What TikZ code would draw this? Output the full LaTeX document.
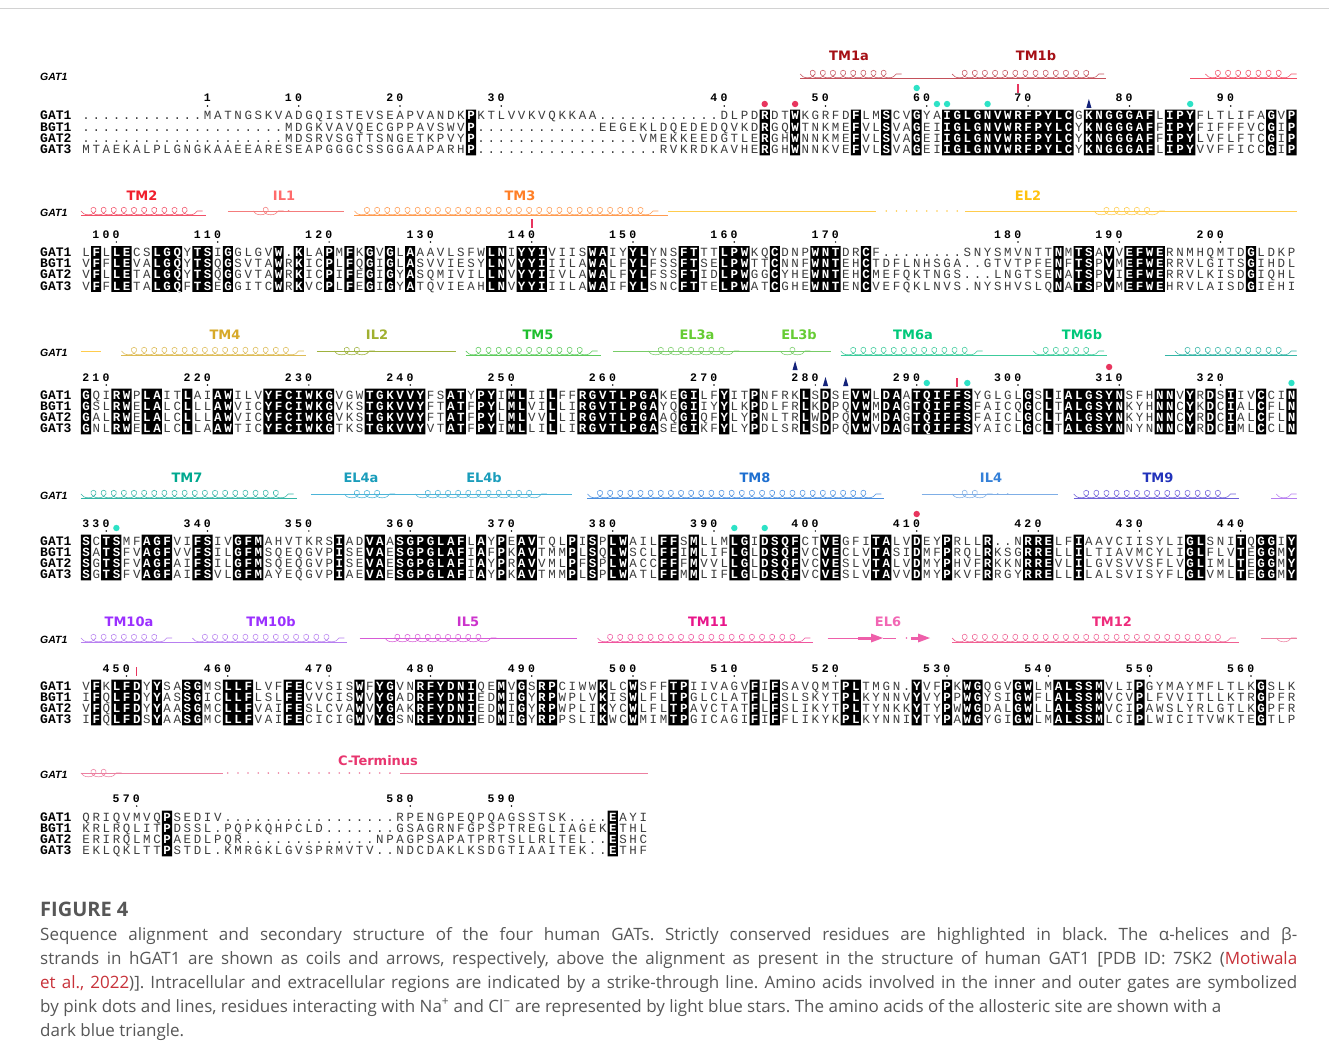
\documentclass[tikz,border=0pt]{standalone}
\usepackage{fontspec}
\usetikzlibrary{decorations.pathmorphing}
\newfontfamily\seqf{Liberation Mono}
\newfontfamily\lblf{DejaVu Sans}
\newfontfamily\glf{Liberation Sans}
\newfontfamily\capf{Open Sans}
\definecolor{seqgray}{HTML}{3C3C3C}
\definecolor{capgray}{HTML}{575757}
\definecolor{linkred}{HTML}{C8323A}
\definecolor{mpink}{HTML}{E8355E}
\definecolor{mcyan}{HTML}{2DE2C6}
\definecolor{mnavy}{HTML}{14237A}
\definecolor{tmAl}{HTML}{A50F15}\definecolor{tmAc}{HTML}{C4515B}
\definecolor{tmBl}{HTML}{F01E2C}\definecolor{tmBc}{HTML}{F25068}
\definecolor{ilAl}{HTML}{FF6B6B}\definecolor{ilAc}{HTML}{F47C7C}
\definecolor{tmCl}{HTML}{FF7F27}\definecolor{tmCc}{HTML}{FF9B50}
\definecolor{elBl}{HTML}{FFC20E}\definecolor{elBc}{HTML}{FFCC4D}
\definecolor{tmDl}{HTML}{D7A929}\definecolor{tmDc}{HTML}{DDBB55}
\definecolor{ilBl}{HTML}{A0B030}\definecolor{ilBc}{HTML}{9EB23E}
\definecolor{tmEl}{HTML}{1FBF2F}\definecolor{tmEc}{HTML}{5CCB5C}
\definecolor{elCl}{HTML}{66CC33}\definecolor{elCc}{HTML}{77CC66}
\definecolor{tmFl}{HTML}{00C87A}\definecolor{tmFc}{HTML}{3CCB9B}
\definecolor{tmGl}{HTML}{00A88F}\definecolor{tmGc}{HTML}{33B5A5}
\definecolor{elDl}{HTML}{1A9DBB}\definecolor{elDc}{HTML}{4BB4D8}
\definecolor{tmHl}{HTML}{1E6FD0}\definecolor{tmHc}{HTML}{4A8FE0}
\definecolor{ilDl}{HTML}{3480D8}\definecolor{ilDc}{HTML}{7FAEE6}
\definecolor{tmIl}{HTML}{2233BB}\definecolor{tmIc}{HTML}{6E5FD8}
\definecolor{tmJl}{HTML}{9B30FF}\definecolor{tmJc}{HTML}{B77FF0}
\definecolor{ilEl}{HTML}{CC33CC}\definecolor{ilEc}{HTML}{D65AD6}
\definecolor{tmKl}{HTML}{E8158A}\definecolor{tmKc}{HTML}{F0569F}
\definecolor{elFl}{HTML}{F266B4}\definecolor{elFc}{HTML}{EE5FAA}
\definecolor{tmLl}{HTML}{EE2C7C}\definecolor{tmLc}{HTML}{F06092}
\definecolor{ctl}{HTML}{E8356E}\definecolor{ctc}{HTML}{EC7FA0}
\makeatletter
\newcommand\sq[1]{\sq@a#1\relax}
\def\sq@a#1{\ifx#1\relax\else\makebox[10.13pt][c]{#1}\expandafter\sq@a\fi}
\makeatother
\newcommand\cx[1]{80.935+(#1)*10.13}
\newcommand\ccx[1]{86+(#1-1)*10.13}
\newcommand\pdot[2]{\fill[mpink] ({\ccx{#1}},#2) circle (3.2);}
\newcommand\cyd[2]{\fill[mcyan] ({\ccx{#1}},#2) circle (3.2);}
\newcommand\pbar[2]{\fill[mpink] ({\ccx{#1}-0.8},#2-4.5) rectangle ({\ccx{#1}+0.8},#2+4.5);}
\newcommand\tri[2]{\fill[mnavy] ({\ccx{#1}},#2-5) -- ({\ccx{#1}+2.6},#2+4) -- ({\ccx{#1}-2.6},#2+4) -- cycle;}
\newcommand\numl[3]{\node[numst] (n#2) at ({\cx{#1}},#3+4) {\sq{#2}}; \fill ({\ccx{#1}},#3+8) circle (0.85);}
\newcommand\coil[4]{\draw[#1,coilst] ({\cx{#2-1}},#4) -- ({\cx{#3}+0.05},#4);}
\newcommand\sline[4]{\draw[#1,line width=0.6pt] ({\cx{#2}},#4) -- ({\cx{#3}},#4);}
\newcommand\sdots[4]{\foreach \k in {#2,...,#3}{\fill[#1] ({\ccx{\k}},#4) circle (0.9);}}
\newcommand\rows[7]{%
 \node[nm] (#1n1) at (40,#2+4) {GAT1};
 \node[nm] (#1n2) at (40,#2+15.2) {BGT1};
 \node[nm] (#1n3) at (40,#2+26.4) {GAT2};
 \node[nm] (#1n4) at (40,#2+37.6) {GAT3};
 \node[sqs] (#1s1) at (80.935,#2+4) {\sq{#4}};
 \node[sqs] (#1s2) at (80.935,#2+15.2) {\sq{#5}};
 \node[sqs] (#1s3) at (80.935,#2+26.4) {\sq{#6}};
 \node[sqs] (#1s4) at (80.935,#2+37.6) {\sq{#7}};
 \fill[black] \foreach \a/\b in {#3} {({\cx{\a-1}},#2-6.3) rectangle ({\cx{\b}},#2+39.4)};
 \begin{scope}
  \clip \foreach \a/\b in {#3} {({\cx{\a-1}},#2-6.3) rectangle ({\cx{\b}},#2+39.4)};
  \node[sqw] (#1w1) at (80.935,#2+4) {\sq{#4}};
  \node[sqw] (#1w2) at (80.935,#2+15.2) {\sq{#5}};
  \node[sqw] (#1w3) at (80.935,#2+26.4) {\sq{#6}};
  \node[sqw] (#1w4) at (80.935,#2+37.6) {\sq{#7}};
 \end{scope}}
\begin{document}
\begin{tikzpicture}[x=1pt,y=-1pt,
 nm/.style={font=\seqf\bfseries\fontsize{13}{13}\selectfont, anchor=base west, inner sep=0pt},
 sqs/.style={font=\seqf\fontsize{12.5}{12.5}\selectfont, text=seqgray, anchor=base west, inner sep=0pt},
 sqw/.style={font=\seqf\bfseries\fontsize{12.5}{12.5}\selectfont, text=white, anchor=base west, inner sep=0pt},
 numst/.style={font=\seqf\bfseries\fontsize{11.5}{11.5}\selectfont, anchor=base east, inner sep=0pt},
 lab/.style={font=\lblf\bfseries\fontsize{13}{13}\selectfont, inner sep=0pt},
 gl/.style={font=\glf\bfseries\itshape\fontsize{10.5}{10.5}\selectfont, anchor=west, inner sep=0pt},
 capst/.style={font=\capf\fontsize{17}{17}\selectfont\frenchspacing, text=capgray, anchor=base west, inner sep=0pt},
 coilst/.style={decorate, decoration={coil, mirror, amplitude=3.8pt, segment length=10.13pt, aspect=1.3}, line width=0.55pt},
 ]
\useasboundingbox (0,0) rectangle (1329,1062);
\fill[white] (0,0) rectangle (1329,1062);
\draw[gray!35, line width=0.8pt] (0,8.5) -- (1329,8.5);

% ---------------- Block 1
\node[gl] (g1) at (40,77) {GAT1};
\sline{tmAc}{71}{101.2}{78}
\coil{tmAc}{72}{81}{74}
\coil{tmAc}{87}{101}{74}
\node[lab, text=tmAl] (lTMa) at (849,56) {TM1a};
\node[lab, text=tmAl] (lTMb) at (1036,56) {TM1b};
\sline{tmBc}{109.5}{120}{78}
\coil{tmBc}{112}{120}{74}
\numl{13}{1}{98}\numl{22}{10}{98}\numl{32}{20}{98}\numl{42}{30}{98}\numl{64}{40}{98}
\numl{74}{50}{98}\numl{84}{60}{98}\numl{94}{70}{98}\numl{104}{80}{98}\numl{114}{90}{98}
\pdot{68}{104}\pdot{71}{104}
\cyd{83}{88}\cyd{85}{104}\cyd{86}{104}\cyd{90}{104}\cyd{110}{104}
\pbar{93}{89}
\tri{100}{104}
\rows{a}{116}{39/39,68/68,71/71,77/77,80/80,83/83,86/98,100/106,108/110,118/118,120/120}
{............MATNGSKVADGQISTEVSEAPVANDKPKTLVVKVQKKAA............DLPDRDTWKGRFDFLMSCVGYAIGLGNVWRFPYLCGKNGGGAFLIPYFLTLIFAGVP}
{....................MDGKVAVQECGPPAVSWVP............EEGEKLDQEDEDQVKDRGQWTNKMEFVLSVAGEIIGLGNVWRFPYLCYKNGGGAFFIPYFIFFFVCGIP}
{....................MDSRVSGTTSNGETKPVYP................VMEKKEEDGTLERGHWNNKMEFVLSVAGEIIGLGNVWRFPYLCYKNGGGAFFIPYLVFLFTCGIP}
{MTAEKALPLGNGKAAEEARESEAPGGGCSSGGAAPARHP..................RVKRDKAVHERGHWNNKVEFVLSVAGEIIGLGNVWRFPYLCYKNGGGAFLIPYVVFFICCGIP}

% ---------------- Block 2
\node[gl] (g2) at (40,213) {GAT1};
\sline{tmBc}{0}{12.3}{215}
\coil{tmBc}{1}{12}{211}
\node[lab, text=tmBl] (lTM2) at (142,196) {TM2};
\sline{ilAc}{14.5}{26}{211}
\coil{ilAc}{18}{20}{211}
\sdots{ilAc}{21}{21}{211}
\coil{ilAc}{22}{22}{211}
\node[lab, text=ilAl] (lIL1) at (284,196) {IL1};
\sline{tmCc}{27}{58}{215}
\coil{tmCc}{28}{57}{211}
\node[lab, text=tmCl] (lTM3) at (520,196) {TM3};
\sline{elBc}{58}{78.5}{211}
\sdots{elBc}{80}{87}{211}
\sline{elBc}{87.3}{120}{211}
\coil{elBc}{101}{107}{211}
\node[lab, text=elBl] (lEL2) at (1028,196) {EL2};
\numl{4}{100}{234}\numl{14}{110}{234}\numl{25}{120}{234}\numl{35}{130}{234}\numl{45}{140}{234}
\numl{55}{150}{234}\numl{65}{160}{234}\numl{75}{170}{234}\numl{93}{180}{234}\numl{103}{190}{234}\numl{113}{200}{234}
\pbar{45}{223}
\rows{b}{252.5}{2/2,4/5,8/10,12/13,15/15,20/20,22/22,25/25,27/27,29/29,31/31,33/33,41/42,44/46,51/52,55/56,60/61,64/66,69/69,73/75,78/78,97/97,99/100,102/102,104/107,116/116}
{LFLLECSLGQYTSIGGLGVW.KLAPMFKGVGLAAAVLSFWLNIYYIVIISWAIYYLYNSFTTTLPWKQCDNPWNTDRCF........SNYSMVNTTNMTSAVVEFWERNMHQMTDGLDKP}
{VFFLEVALGQYTSQGSVTAWRKICPLFQGIGLASVVIESYLNVYYIIILAWALFYLFSSFTSELPWTTCNNFWNTEHCTDFLNHSGA..GTVTPFENFTSPVMEFWERRVLGITSGIHDL}
{VFLLETALGQYTSQGGVTAWRKICPIFEGIGYASQMIVILLNVYYIIVLAWALFYLFSSFTIDLPWGGCYHEWNTEHCMEFQKTNGS...LNGTSENATSPVIEFWERRVLKISDGIQHL}
{VFFLETALGQFTSEGGITCWRKVCPLFEGIGYATQVIEAHLNVYYIIILAWAIFYLSNCFTTELPWATCGHEWNTENCVEFQKLNVS.NYSHVSLQNATSPVMEFWEHRVLAISDGIEHI}

% ---------------- Block 3
\node[gl] (g3) at (40,353) {GAT1};
\sline{elBc}{0}{2}{351}
\sline{tmDc}{4}{22.2}{355}
\coil{tmDc}{5}{22}{351}
\node[lab, text=tmDl] (lTM4) at (225,335) {TM4};
\sline{ilBc}{23.3}{37}{351}
\coil{ilBc}{26}{29}{351}
\node[lab, text=ilBl] (lIL2) at (377,335) {IL2};
\sline{tmEc}{38}{51.3}{355}
\coil{tmEc}{39}{51}{351}
\node[lab, text=tmEl] (lTM5) at (538,335) {TM5};
\sline{elCc}{52.5}{74}{351}
\coil{elCc}{57}{65}{351}
\coil{elCc}{70}{72}{351}
\node[lab, text=elCl] (lEL3a) at (697,335) {EL3a};
\node[lab, text=elCl] (lEL3b) at (799,335) {EL3b};
\sline{tmFc}{75}{101.3}{355}
\coil{tmFc}{76}{89}{351}
\coil{tmFc}{95}{101}{351}
\node[lab, text=tmFl] (lTM6a) at (913,335) {TM6a};
\node[lab, text=tmFl] (lTM6b) at (1082,335) {TM6b};
\sline{tmGc}{107}{120}{355}
\coil{tmGc}{109}{120}{351}
\numl{3}{210}{377}\numl{13}{220}{377}\numl{23}{230}{377}\numl{33}{240}{377}\numl{43}{250}{377}\numl{53}{260}{377}
\numl{63}{270}{377}\numl{73}{280}{377}\numl{83}{290}{377}\numl{93}{300}{377}\numl{103}{310}{377}\numl{113}{320}{377}
\tri{71}{366}\tri{74}{382}\tri{76}{382}
\cyd{84}{383}\pbar{87}{382}\cyd{88}{383}\pdot{102}{367}\cyd{120}{383}
\rows{c}{395}{1/1,4/5,7/8,11/11,14/15,19/25,29/34,37/38,40/41,43/44,47/47,50/57,60/61,64/64,67/67,72/72,74/74,77/78,80/81,83/88,94/94,96/96,98/103,107/108,110/110,112/112,114/114,117/117,120/120}
{GQIRWPLAITLAIAWILVYFCIWKGVGWTGKVVYFSATYPYIMLIILFFRGVTLPGAKEGILFYITPNFRKLSDSEVWLDAATQIFFSYGLGLGSLIALGSYNSFHNNVYRDSIIVCCIN}
{GSLRWELALCLLLAWVICYFCIWKGVKSTGKVVYFTATFPYLMLVILLIRGVTLPGAYQGIIYYLKPDLFRLKDPQVWMDAGTQIFFSFAICQGCLTALGSYNKYHNNCYKDCIALCFLN}
{GALRWELALCLLLAWVICYFCIWKGVKSTGKVVYFTATFPYLMLVVLLIRGVTLPGAAQGIQFYLYPNLTRLWDPQVWMDAGTQIFFSFAICLGCLTALGSYNKYHNNCYRDCIALCFLN}
{GNLRWELALCLLAAWTICYFCIWKGTKSTGKVVYVTATFPYIMLLILLIRGVTLPGASEGIKFYLYPDLSRLSDPQVWVDAGTQIFFSYAICLGCLTALGSYNNYNNNCYRDCIMLCCLN}

% ---------------- Block 4
\node[gl] (g4) at (40,496) {GAT1};
\sline{tmGc}{0}{21.3}{498}
\coil{tmGc}{1}{21}{494}
\node[lab, text=tmGl] (lTM7) at (187,478) {TM7};
\sline{elDc}{22.7}{48.5}{494}
\coil{elDc}{27}{31}{494}
\coil{elDc}{34}{46}{494}
\node[lab, text=elDl] (lEL4a) at (361,478) {EL4a};
\node[lab, text=elDl] (lEL4b) at (484,478) {EL4b};
\sline{tmHc}{50}{79.3}{498}
\coil{tmHc}{51}{79}{494}
\node[lab, text=tmHl] (lTM8) at (755,478) {TM8};
\sline{ilDc}{83}{96.5}{494}
\coil{ilDc}{87}{90}{494}
\sdots{ilDc}{91}{92}{494}
\coil{ilDc}{93}{93}{494}
\node[lab, text=ilDl] (lIL4) at (991,478) {IL4};
\sline{tmIc}{98}{114.3}{498}
\coil{tmIc}{99}{114}{494}
\node[lab, text=tmIl] (lTM9) at (1158,478) {TM9};
\sline{tmJc}{117.5}{120}{498}
\coil{tmJc}{119}{120}{494}
\numl{3}{330}{523}\numl{13}{340}{523}\numl{23}{350}{523}\numl{33}{360}{523}\numl{43}{370}{523}\numl{53}{380}{523}
\numl{63}{390}{523}\numl{73}{400}{523}\numl{83}{410}{523}\numl{95}{420}{523}\numl{105}{430}{523}\numl{115}{440}{523}
\cyd{4}{528}\cyd{65}{528}\cyd{68}{528}\pdot{83}{514}
\rows{d}{541}{1/1,3/4,7/9,12/13,16/18,26/26,29/30,32/38,40/40,42/42,44/45,49/49,51/51,53/54,58/59,61/61,65/66,68/71,74/75,79/80,83/83,86/86,90/90,94/96,99/99,110/111,115/115,117/118,120/120}
{SCTSMFAGFVIFSIVGFMAHVTKRSIADVAASGPGLAFLAYPEAVTQLPISPLWAILFFSMLLMLGIDSQFCTVEGFITALVDEYPRLLR..NRRELFIAAVCIISYLIGLSNITQGGIY}
{SATSFVAGFVVFSILGFMSQEQGVPISEVAESGPGLAFIAFPKAVTMMPLSQLWSCLFFIMLIFLGLDSQFVCVECLVTASIDMFPRQLRKSGRRELLILTIAVMCYLIGLFLVTEGGMY}
{SGTSFVAGFAIFSILGFMSQEQGVPISEVAESGPGLAFIAYPRAVVMLPFSPLWACCFFFMVVLLGLDSQFVCVESLVTALVDMYPHVFRKKNRREVLILGVSVVSFLVGLIMLTEGGMY}
{SGTSFVAGFAIFSVLGFMAYEQGVPIAEVAESGPGLAFIAYPKAVTMMPLSPLWATLFFMMLIFLGLDSQFVCVESLVTAVVDMYPKVFRRGYRRELLILALSVISYFLGLVMLTEGGMY}

% ---------------- Block 5
\node[gl] (g5) at (40,640) {GAT1};
\sline{tmJc}{0}{26.3}{642}
\coil{tmJc}{1}{9}{638}
\coil{tmJc}{12}{26}{638}
\node[lab, text=tmJl] (lTM10a) at (129,622) {TM10a};
\node[lab, text=tmJl] (lTM10b) at (271,622) {TM10b};
\sline{ilEc}{27.5}{49}{638}
\coil{ilEc}{31}{41}{638}
\node[lab, text=ilEl] (lIL5) at (468,622) {IL5};
\sline{tmKc}{51}{72.3}{642}
\coil{tmKc}{52}{72}{638}
\node[lab, text=tmKl] (lTM11) at (708,622) {TM11};
\sline{elFc}{73.7}{77.2}{638}
\fill[elFc] (858,636.5) rectangle (871,639.5);
\fill[elFc] (871,633.5) -- (883,638) -- (871,642.5) -- cycle;
\draw[elFc, line width=0.6pt] (883,638) -- (896,638);
\sdots{elFc}{82}{82}{638}
\fill[elFc] (911,636.5) rectangle (918,639.5);
\fill[elFc] (918,633.5) -- (930,638) -- (918,642.5) -- cycle;
\node[lab, text=elFl] (lEL6) at (888,622) {EL6};
\sline{tmLc}{86}{114.3}{642}
\coil{tmLc}{87}{114}{638}
\node[lab, text=tmLl] (lTM12) at (1112,622) {TM12};
\sline{ctc}{116.5}{120}{638}
\coil{ctc}{119}{120}{638}
\numl{5}{450}{668}\numl{15}{460}{668}\numl{25}{470}{668}\numl{35}{480}{668}\numl{45}{490}{668}\numl{55}{500}{668}
\numl{65}{510}{668}\numl{75}{520}{668}\numl{86}{530}{668}\numl{96}{540}{668}\numl{106}{550}{668}\numl{116}{560}{668}
\pbar{6}{671}
\rows{e}{686}{2/2,4/6,8/8,11/12,15/17,21/22,28/28,30/31,34/39,42/42,44/44,46/47,52/52,55/55,59/60,67/67,69/69,76/77,83/83,86/86,88/89,93/94,97/101,105/105,117/117}
{VFKLFDYYSASGMSLLFLVFFECVSISWFYGVNRFYDNIQEMVGSRPCIWWKLCWSFFTPIIVAGVFIFSAVQMTPLTMGN.YVFPKWGQGVGWLMALSSMVLIPGYMAYMFLTLKGSLK}
{IFQLFDYYASSGICLLFLSLFEVVCISWVYGADRFYDNIEDMIGYRPWPLVKISWLFLTPGLCLATFLFSLSKYTPLKYNNVYVYPPWGYSIGWFLALSSMVCVPLFVVITLLKTRGPFR}
{VFQLFDYYAASGMCLLFVAIFESLCVAWVYGAKRFYDNIEDMIGYRPWPLIKYCWLFLTPAVCTATFLFSLIKYTPLTYNKKYTYPWWGDALGWLLALSSMVCIPAWSLYRLGTLKGPFR}
{IFQLFDSYAASGMCLLFVAIFECICIGWVYGSNRFYDNIEDMIGYRPPSLIKWCWMIMTPGICAGIFIFFLIKYKPLKYNNIYTYPAWGYGIGWLMALSSMLCIPLWICITVWKTEGTLP}

% ---------------- Block 6
\node[gl] (g6) at (40,775) {GAT1};
\sline{ctc}{0}{14}{773}
\coil{ctc}{1}{4}{773}
\sdots{ctc}{15}{31}{773}
\sline{ctc}{31.5}{56}{773}
\node[lab, text=ctl] (lCT) at (378,761) {C-Terminus};
\numl{6}{570}{798}\numl{33}{580}{798}\numl{43}{590}{798}
\rows{f}{817}{9/9,53/53}
{QRIQVMVQPSEDIV.................RPENGPEQPQAGSSTSK....EAYI}
{KRLRQLITPDSSL.PQPKQHPCLD.......GSAGRNFGPSPTREGLIAGEKETHL}
{ERIRQLMCPAEDLPQR.............NPAGPSAPATPRTSLLRLTEL..ESHC}
{EKLQKLTTPSTDL.KMRGKLGVSPRMVTV..NDCDAKLKSDGTIAAITEK..ETHF}

% ---------------- Caption
\node[capst, font=\capf\bfseries\fontsize{20}{20}\selectfont] (cap0) at (40,916) {FIGURE 4};
\node[capst] (cap1) at (40,940) {\makebox[1257pt][s]{Sequence alignment and secondary structure of the four human GATs. Strictly conserved residues are highlighted in black. The α-helices and β-}};
\node[capst] (cap2) at (40,964) {\makebox[1257pt][s]{strands in hGAT1 are shown as coils and arrows, respectively, above the alignment as present in the structure of human GAT1 [PDB ID: 7SK2 (\textcolor{linkred}{Motiwala}}};
\node[capst] (cap3) at (40,988) {\makebox[1257pt][s]{\textcolor{linkred}{et al., 2022})]. Intracellular and extracellular regions are indicated by a strike-through line. Amino acids involved in the inner and outer gates are symbolized}};
\node[capst] (cap4) at (40,1012) {by pink dots and lines, residues interacting with Na\textsuperscript{+} and Cl\textsuperscript{−} are represented by light blue stars. The amino acids of the allosteric site are shown with a};
\node[capst] (cap5) at (40,1036) {dark blue triangle.};
\end{tikzpicture}
\end{document}
